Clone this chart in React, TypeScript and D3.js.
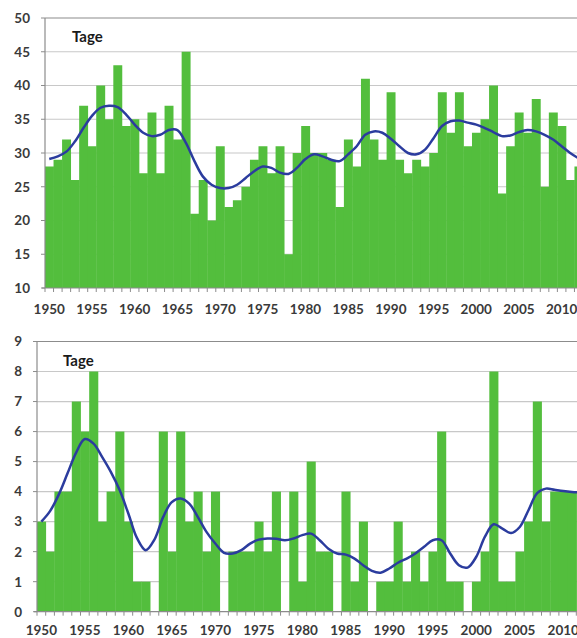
import React, { useEffect, useRef } from 'react';
import * as d3 from 'd3';

// years 1950 .. 2012
const years = d3.range(1950, 2013);
const yearLabels = [1950, 1955, 1960, 1965, 1970, 1975, 1980, 1985, 1990, 1995, 2000, 2005, 2010];

// upper panel: days per year
const daysTop = [
  28, 29, 32, 26, 37, 31, 40, 35, 43, 34,
  35, 27, 36, 27, 37, 32, 45, 21, 26, 20,
  31, 22, 23, 25, 29, 31, 27, 31, 15, 30,
  34, 30, 30, 29, 22, 32, 28, 41, 32, 29,
  39, 29, 27, 29, 28, 30, 39, 33, 39, 31,
  33, 35, 40, 24, 31, 36, 33, 38, 25, 36,
  34, 26, 28,
];
const smoothTop = [
  29.1, 29.5, 30.2, 31.7, 33.7, 35.5, 36.7, 37.0, 36.8, 35.7,
  34.2, 33.0, 32.5, 32.7, 33.4, 33.4, 31.5, 28.8, 26.5, 25.3,
  24.8, 24.8, 25.3, 26.3, 27.3, 28.0, 27.8, 27.1, 26.9, 27.8,
  29.1, 29.8, 29.5, 29.0, 28.8, 29.8, 31.0, 32.7, 33.2, 33.0,
  32.1, 31.0, 30.0, 29.8, 30.5, 32.2, 34.0, 34.7, 34.8, 34.5,
  34.2, 33.7, 33.1, 32.5, 32.6, 33.1, 33.4, 33.2, 32.7, 32.0,
  31.0, 30.0, 29.2,
];
const ticksTop = [10, 15, 20, 25, 30, 35, 40, 45, 50];

// lower panel: days per year
const daysBottom = [
  3, 2, 4, 4, 7, 6, 8, 3, 4, 6,
  3, 1, 1, 0, 6, 2, 6, 3, 4, 2,
  4, 0, 2, 2, 2, 3, 2, 4, 0, 4,
  1, 5, 2, 2, 0, 4, 1, 3, 0, 1,
  1, 3, 1, 2, 1, 2, 6, 1, 1, 0,
  1, 2, 8, 1, 1, 2, 3, 7, 3, 4,
  4, 4, 4,
];
const smoothBottom = [
  3.0, 3.35, 3.9, 4.6, 5.3, 5.75, 5.6, 5.15, 4.65, 4.05,
  3.27, 2.45, 2.05, 2.4, 3.15, 3.65, 3.77, 3.6, 3.15, 2.65,
  2.27, 1.96, 1.94, 2.05, 2.27, 2.4, 2.44, 2.43, 2.38, 2.44,
  2.55, 2.6, 2.38, 2.1, 1.94, 1.9, 1.77, 1.55, 1.36, 1.3,
  1.44, 1.63, 1.77, 1.94, 2.16, 2.38, 2.38, 1.94, 1.55, 1.47,
  1.83, 2.5, 2.91, 2.77, 2.62, 2.82, 3.38, 3.95, 4.1, 4.06,
  4.02, 3.99, 3.97,
];
const ticksBottom = [0, 1, 2, 3, 4, 5, 6, 7, 8, 9];

const FONT = 'Lato, "Open Sans", sans-serif';

interface PanelProps {
  values: number[];
  smooth: number[];
  ticks: number[];
  left: number;
  right: number;
  top: number;
  bottom: number;
  labelY: number;
  tageX: number;
  tageY: number;
}

const Panel: React.FC<PanelProps> = ({ values, smooth, ticks, left, right, top, bottom, labelY, tageX, tageY }) => {
  const ref = useRef<SVGGElement>(null);

  useEffect(() => {
    const g = d3.select(ref.current);
    g.selectAll('*').remove();

    const x = d3.scaleBand<number>().domain(years).range([left, right]).padding(0);
    const y = d3.scaleLinear().domain([ticks[0], ticks[ticks.length - 1]]).range([bottom, top]);

    // gridlines
    g.selectAll('line.grid')
      .data(ticks.slice(1))
      .enter()
      .append('line')
      .attr('x1', left)
      .attr('x2', 600)
      .attr('y1', (d) => y(d))
      .attr('y2', (d) => y(d))
      .attr('stroke', (d, i) => (i === ticks.length - 2 ? '#8c8c8c' : '#c8c8c8'))
      .attr('stroke-width', 1.2);

    // bars
    g.selectAll('rect.bar')
      .data(values)
      .enter()
      .append('rect')
      .attr('x', (d, i) => x(years[i])!)
      .attr('width', x.bandwidth() + 0.4)
      .attr('y', (d) => y(d))
      .attr('height', (d) => bottom - y(d))
      .attr('fill', '#53be3d');

    // axes
    g.append('line')
      .attr('x1', left).attr('x2', left)
      .attr('y1', top).attr('y2', bottom)
      .attr('stroke', '#8c8c8c').attr('stroke-width', 1.2);
    g.append('line')
      .attr('x1', left - 3).attr('x2', 600)
      .attr('y1', bottom).attr('y2', bottom)
      .attr('stroke', '#8c8c8c').attr('stroke-width', 1.2);

    g.selectAll('line.ytick')
      .data(ticks)
      .enter()
      .append('line')
      .attr('x1', left - 4).attr('x2', left)
      .attr('y1', (d) => y(d)).attr('y2', (d) => y(d))
      .attr('stroke', '#8c8c8c');

    g.selectAll('line.xtick')
      .data(years)
      .enter()
      .append('line')
      .attr('x1', (d) => x(d)!).attr('x2', (d) => x(d)!)
      .attr('y1', bottom).attr('y2', bottom + 4)
      .attr('stroke', '#8c8c8c');

    g.selectAll('text.ylab')
      .data(ticks)
      .enter()
      .append('text')
      .attr('x', left - 15)
      .attr('y', (d) => y(d))
      .attr('dy', '0.36em')
      .attr('text-anchor', 'end')
      .attr('font-family', FONT)
      .attr('font-weight', 700)
      .attr('font-size', 13.5)
      .attr('fill', '#3a3a3a')
      .text((d) => d);

    g.selectAll('text.xlab')
      .data(yearLabels)
      .enter()
      .append('text')
      .attr('x', (d) => x(d)! + x.bandwidth() / 2)
      .attr('y', labelY)
      .attr('text-anchor', 'middle')
      .attr('font-family', FONT)
      .attr('font-weight', 700)
      .attr('font-size', 13.5)
      .attr('fill', '#3a3a3a')
      .text((d) => d);

    // smoothed curve
    const line = d3
      .line<number>()
      .x((d, i) => x(years[i])! + x.bandwidth() / 2)
      .y((d) => y(d))
      .curve(d3.curveCatmullRom.alpha(0.5));

    g.append('path')
      .datum(smooth)
      .attr('d', line)
      .attr('fill', 'none')
      .attr('stroke', '#2b3c9e')
      .attr('stroke-width', 2.5);

    g.append('text')
      .attr('x', tageX)
      .attr('y', tageY)
      .attr('font-family', FONT)
      .attr('font-weight', 700)
      .attr('font-size', 15)
      .attr('fill', '#1a1a1a')
      .text('Tage');
  }, [values, smooth, ticks, left, right, top, bottom, labelY, tageX, tageY]);

  return <g ref={ref}></g>;
};

export default function App() {
  return (
    <svg width={577} height={638} style={{ position: 'absolute', left: 0, top: 0, background: '#fff' }}>
      <rect width={577} height={638} fill="#fff" />
      <Panel values={daysTop} smooth={smoothTop} ticks={ticksTop}
        left={45} right={583} top={18} bottom={288} labelY={314} tageX={72} tageY={42} />
      <Panel values={daysBottom} smooth={smoothBottom} ticks={ticksBottom}
        left={37} right={585} top={341.5} bottom={611.7} labelY={635} tageX={63} tageY={366} />
    </svg>
  );
}
